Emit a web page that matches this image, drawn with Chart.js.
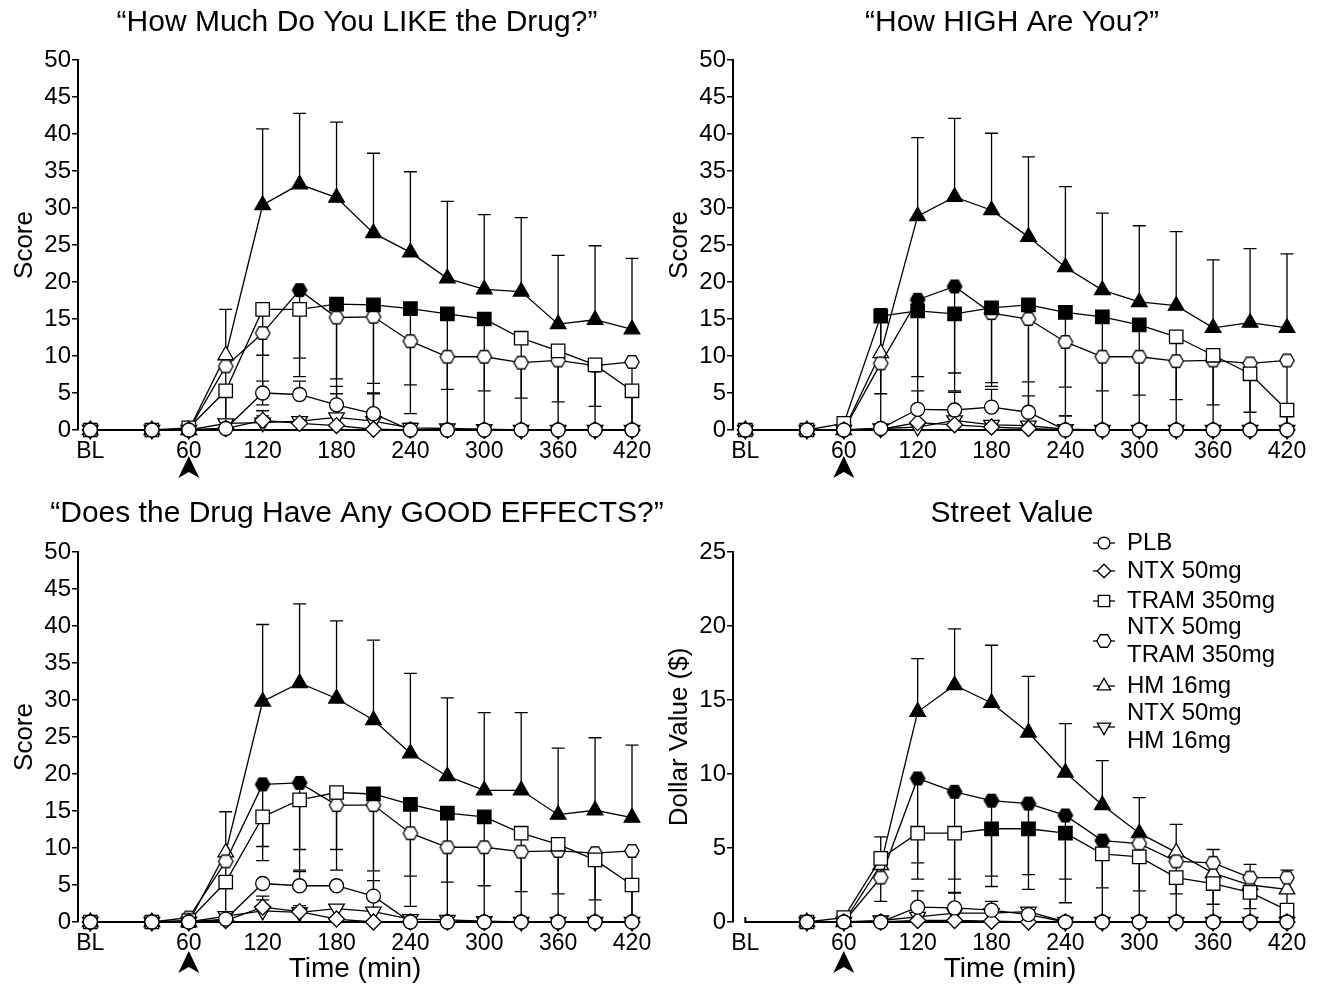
<!DOCTYPE html>
<html>
<head>
<meta charset="utf-8">
<script src="https://cdn.jsdelivr.net/npm/chart.js@4.4.0/dist/chart.umd.min.js"></script>
<style>
  html, body { margin: 0; padding: 0; background: #fff; }
  body { width: 1326px; height: 990px; position: relative; overflow: hidden; }
  .panel { position: absolute; width: 663px; height: 495px; }
</style>
</head>
<body>
<div class="panel" style="left:0;top:0"><canvas id="like" width="663" height="495"></canvas></div>
<div class="panel" style="left:655px;top:0"><canvas id="high" width="663" height="495"></canvas></div>
<div class="panel" style="left:0;top:495px"><canvas id="good" width="663" height="495"></canvas></div>
<div class="panel" style="left:655px;top:495px"><canvas id="street" width="663" height="495"></canvas></div>
<script>
// time points (BL plotted at -20 min), tick labels
const times = [-20, 30, 60, 90, 120, 150, 180, 210, 240, 270, 300, 330, 360, 390, 420];
const xTicks = [-20, 60, 120, 180, 240, 300, 360, 420];
const legendLabels = [["PLB"], ["NTX 50mg"], ["TRAM 350mg"], ["NTX 50mg", "TRAM 350mg"], ["HM 16mg"], ["NTX 50mg", "HM 16mg"]];

// errors: positive = bar drawn upward, negative = downward
// "How Much Do You LIKE the Drug?"
const likePLB = [0, 0, 0, 0.2, 5.0, 4.8, 3.4, 2.2, 0, 0, 0, 0, 0, 0, 0];
const likePLBErr = [0, 0, 0, 0, 1.6, 1.8, 1.5, 2.8, 0, 0, 0, 0, 0, 0, 0];
const likeNTX = [0, 0, 0, 0.2, 1.3, 0.9, 0.6, 0.1, 0, 0, 0, 0, 0, 0, 0];
const likeNTXErr = [0, 0, 0, 0, 1.3, 0.6, 0, 0, 0, 0, 0, 0, 0, 0, 0];
const likeTRAM = [0, 0, 0.3, 5.3, 16.3, 16.3, 17.0, 16.9, 16.4, 15.7, 15.0, 12.4, 10.7, 8.8, 5.3];
const likeTRAMErr = [0, 0, 0, -5.3, -6.2, -6.6, -17.0, -16.9, -14.2, -15.7, -15.0, -12.4, -10.7, -8.8, -5.3];
const likeTRAMFilled = [180, 210, 240, 270, 300];
const likeCombo = [0, 0, 0, 8.6, 13.1, 18.9, 15.2, 15.3, 12.0, 9.9, 9.9, 9.1, 9.4, 8.7, 9.2];
const likeComboErr = [0, 0, 0, -8.6, -9.7, -11.7, -8.3, -9.0, -5.9, -4.4, -4.6, -4.8, -5.6, -5.5, -9.2];
const likeComboFilled = [150];
const likeHM = [0, 0, 0, 10.1, 30.4, 33.2, 31.4, 26.6, 24.0, 20.5, 19.0, 18.7, 14.3, 14.9, 13.6];
const likeHMErr = [0, 0, 0, 6.2, 10.3, 9.6, 10.2, 10.8, 10.9, 10.4, 10.1, 10.0, 9.3, 10.0, 9.6];
const likeHMFilled = [120, 150, 180, 210, 240, 270, 300, 330, 360, 390, 420];
const likeNTXHM = [0, 0, 0, 0.9, 1.0, 1.2, 1.7, 1.2, 0.3, 0.2, 0.1, 0, 0, 0, 0];
const likeNTXHMErr = [0, 0, 0, 0.4, 0.9, 0.5, 4.2, 3.7, 0.6, 0, 0, 0, 0, 0, 0];

// "How HIGH Are You?"
const highPLB = [0, 0, 0, 0.2, 2.8, 2.7, 3.1, 2.4, 0, 0, 0, 0, 0, 0, 0];
const highPLBErr = [0, 0, 0, 0, 2.5, 2.4, 2.4, 2.2, 0, 0, 0, 0, 0, 0, 0];
const highNTX = [0, 0, 0, 0.1, 1.0, 0.7, 0.4, 0.2, 0, 0, 0, 0, 0, 0, 0];
const highNTXErr = [0, 0, 0, 0, 0, 0, 0, 0, 0, 0, 0, 0, 0, 0, 0];
const highTRAM = [0, 0, 0.9, 15.4, 16.1, 15.7, 16.5, 16.9, 15.9, 15.3, 14.2, 12.6, 10.1, 7.6, 2.7];
const highTRAMErr = [0, 0, 0, -10.5, -8.9, -8.0, -10.6, -16.9, -14.0, -15.3, -14.2, -12.6, -10.1, -7.6, -2.7];
const highTRAMFilled = [90, 120, 150, 180, 210, 240, 270, 300];
const highCombo = [0, 0, 0, 9.0, 17.6, 19.4, 15.8, 15.0, 11.9, 9.9, 9.9, 9.3, 9.4, 9.0, 9.4];
const highComboErr = [0, 0, 0, -9.0, -17.6, -14.1, -9.4, -8.5, -6.1, -4.6, -5.2, -5.2, -6.0, -6.6, -9.4];
const highComboFilled = [120, 150];
const highHM = [0, 0, 0, 10.4, 28.9, 31.5, 29.7, 26.1, 22.0, 18.9, 17.3, 16.8, 13.8, 14.5, 13.8];
const highHMErr = [0, 0, 0, 6.0, 10.6, 10.6, 10.4, 10.8, 10.9, 10.4, 10.3, 10.0, 9.2, 10.0, 10.0];
const highHMFilled = [120, 150, 180, 210, 240, 270, 300, 330, 360, 390, 420];
const highNTXHM = [0, 0, 0, 0.2, 0.4, 1.3, 0.7, 0.6, 0.1, 0, 0, 0, 0, 0, 0];
const highNTXHMErr = [0, 0, 0, 0, 0, 0, 0, 0, 1.8, 0, 0, 0, 0, 0, 0];

// "Does the Drug Have Any GOOD EFFECTS?"
const goodPLB = [0, 0, 0, 0.4, 5.2, 4.9, 4.9, 3.5, 0, 0, 0, 0, 0, 0, 0];
const goodPLBErr = [0, 0, 0, 0, 0, 1.9, 0, 2.1, 0, 0, 0, 0, 0, 0, 0];
const goodNTX = [0, 0, 0, 0.2, 2.0, 1.4, 0.4, 0, 0, 0, 0, 0, 0, 0, 0];
const goodNTXErr = [0, 0, 0, 0, 1.5, 0.8, 0, 0, 0, 0, 0, 0, 0, 0, 0];
const goodTRAM = [0, 0, 0.2, 5.4, 14.2, 16.5, 17.5, 17.3, 15.9, 14.7, 14.2, 12.0, 10.5, 8.4, 5.0];
const goodTRAMErr = [0, 0, 0, 0, -4.0, -6.7, -7.7, -17.3, -13.8, -14.7, -14.2, -12.0, -10.5, -8.4, -5.0];
const goodTRAMFilled = [210, 240, 270, 300];
const goodCombo = [0, 0, 0.6, 8.2, 18.6, 18.8, 15.8, 15.8, 12.0, 10.1, 10.1, 9.5, 9.6, 9.3, 9.6];
const goodComboErr = [0, 0, 0, -8.2, -10.3, -11.8, -8.8, -8.9, -5.8, -4.7, -5.2, -5.4, -5.8, -6.3, -9.6];
const goodComboFilled = [120, 150];
const goodHM = [0, 0, 0, 9.4, 29.8, 32.3, 30.2, 27.3, 22.8, 19.7, 17.8, 17.8, 14.5, 15.1, 14.1];
const goodHMErr = [0, 0, 0, 5.5, 10.4, 10.7, 10.5, 10.8, 10.8, 10.6, 10.5, 10.5, 9.0, 9.8, 9.8];
const goodHMFilled = [120, 150, 180, 210, 240, 270, 300, 330, 360, 390, 420];
const goodNTXHM = [0, 0, 0, 0.8, 1.5, 1.3, 1.8, 1.4, 0.4, 0.3, 0.1, 0, 0, 0, 0];
const goodNTXHMErr = [0, 0, 0, 0, 1.5, 0.6, 0, 0, 0, 0, 0, 0, 0, 0, 0];

// Street Value ($), no BL measure
const streetPLB = [null, 0, 0, 0, 1.0, 0.95, 0.8, 0.5, 0, 0, 0, 0, 0, 0, 0];
const streetPLBErr = [0, 0, 0, 0, 1.1, 1.0, 0.6, 0, 0, 0, 0, 0, 0, 0, 0];
const streetNTX = [null, 0, 0, 0, 0.1, 0.1, 0.05, 0, 0, 0, 0, 0, 0, 0, 0];
const streetNTXErr = [0, 0, 0, 0, 0, 0, 0, 0, 0, 0, 0, 0, 0, 0, 0];
const streetTRAM = [null, 0, 0.3, 4.3, 6.0, 6.0, 6.3, 6.3, 6.0, 4.6, 4.4, 3.0, 2.6, 2.0, 0.8];
const streetTRAMErr = [0, 0, 0, -2.9, -3.1, -3.1, -3.2, -3.1, -3.1, -2.3, -2.3, -1.1, -1.4, -1.1, -0.8];
const streetTRAMFilled = [180, 210, 240];
const streetCombo = [null, 0, 0, 3.0, 9.7, 8.8, 8.2, 8.0, 7.2, 5.5, 5.3, 4.1, 4.0, 3.0, 3.0];
const streetComboErr = [0, 0, 0, 0, -5.7, -6.8, -5.8, -5.8, -5.9, -5.5, -5.3, -4.1, -4.0, -3.0, -3.0];
const streetComboFilled = [120, 150, 180, 210, 240, 270];
const streetHM = [null, 0, 0, 3.85, 14.2, 16.0, 14.8, 12.8, 10.1, 7.9, 6.0, 4.7, 3.3, 2.5, 2.2];
const streetHMErr = [0, 0, 0, 1.9, 3.6, 3.8, 3.9, 3.8, 3.3, 3.0, 2.4, 1.9, 1.6, 1.4, 1.3];
const streetHMFilled = [120, 150, 180, 210, 240, 270, 300];
const streetNTXHM = [null, 0, 0, 0.1, 0.35, 0.6, 0.6, 0.7, 0, 0, 0, 0, 0, 0, 0];
const streetNTXHMErr = [0, 0, 0, 0, 0, 0, 0, 0, 0, 0, 0, 0, 0, 0, 0];

const FONT = '"Liberation Sans", Arial, Helvetica, sans-serif';

// hexagon marker (Chart.js has none) as small canvases
function makeHex(filled) {
  const c = document.createElement("canvas");
  c.width = 18; c.height = 18;
  const g = c.getContext("2d");
  g.beginPath();
  for (let k = 0; k < 6; k++) {
    const a = Math.PI / 3 * k;
    const px = 9 + 7.2 * Math.cos(a), py = 9 + 7.2 * Math.sin(a);
    if (k) g.lineTo(px, py); else g.moveTo(px, py);
  }
  g.closePath();
  g.fillStyle = filled ? "#000" : "#fff";
  g.fill();
  g.lineWidth = 1.3;
  g.strokeStyle = "#000";
  g.stroke();
  return c;
}
const hexOpen = makeHex(false);
const hexFilled = makeHex(true);

const markers = [
  { style: "circle", r: 7, rot: 0 },
  { style: "rectRot", r: 8, rot: 0 },
  { style: "rect", r: 9.5, rot: 0 },
  { style: "hex", r: 8, rot: 0 },
  { style: "triangle", r: 9, rot: 0 },
  { style: "triangle", r: 9, rot: 180 }
];

function serie(k, vals, err, filled = []) {
  const m = markers[k];
  return {
    label: legendLabels[k].join(" "),
    data: times.map((t, i) => ({ x: t, y: vals[i] })),
    err,
    borderColor: "#000",
    borderWidth: 1.3,
    pointStyle: m.style === "hex" ? times.map(t => filled.includes(t) ? hexFilled : hexOpen) : m.style,
    pointRadius: m.r,
    pointRotation: m.rot,
    pointBackgroundColor: times.map(t => filled.includes(t) ? "#000" : "#fff"),
    pointBorderColor: "#000",
    pointBorderWidth: 1.3,
    clip: false,
    tension: 0
  };
}

const panelDeco = {
  id: "panelDeco",
  beforeDatasetsDraw(chart) {
    const ctx = chart.ctx, x = chart.scales.x, y = chart.scales.y;
    const y0 = y.getPixelForValue(0);
    ctx.save();
    ctx.strokeStyle = "#000";
    ctx.lineWidth = 2;
    const xs = x.getPixelForValue(xTicks[0]), xe = x.getPixelForValue(xTicks[xTicks.length - 1]);
    ctx.beginPath();
    ctx.moveTo(xs, y0 - 5);
    ctx.lineTo(xs, y0);
    ctx.lineTo(xe, y0);
    ctx.stroke();
    // error bars
    ctx.lineWidth = 1.3;
    chart.data.datasets.forEach(ds => {
      ds.err.forEach((e, i) => {
        const v = ds.data[i].y;
        if (!e || v == null) return;
        const px = x.getPixelForValue(times[i]);
        const p1 = y.getPixelForValue(v), p2 = y.getPixelForValue(Math.max(0, v + e));
        ctx.beginPath();
        ctx.moveTo(px, p1);
        ctx.lineTo(px, p2);
        ctx.moveTo(px - 6.5, p2);
        ctx.lineTo(px + 6.5, p2);
        ctx.stroke();
      });
    });
    ctx.restore();
  },
  afterDraw(chart, args, opts) {
    const ctx = chart.ctx, ca = chart.chartArea, x = chart.scales.x, y = chart.scales.y;
    ctx.save();
    ctx.fillStyle = "#000";
    ctx.textAlign = "center";
    ctx.textBaseline = "middle";
    ctx.font = `30px ${FONT}`;
    ctx.fillText(opts.title, (ca.left + ca.right) / 2 + 2, opts.titleY);
    // dosing arrowhead under 60 min
    const ax = x.getPixelForValue(60), ay = y.getPixelForValue(0) + opts.arrowGap;
    ctx.beginPath();
    ctx.moveTo(ax, ay);
    ctx.lineTo(ax + 10.5, ay + 22);
    ctx.lineTo(ax, ay + 16);
    ctx.lineTo(ax - 10.5, ay + 22);
    ctx.closePath();
    ctx.fill();
    if (opts.legend) {
      const rows = [48, 76, 106, 146, 191, 232];
      const mx = 449, tx = 472;
      ctx.textAlign = "left";
      ctx.font = `24px ${FONT}`;
      rows.forEach((ry, k) => {
        ctx.strokeStyle = "#000";
        ctx.lineWidth = 1.3;
        ctx.beginPath();
        ctx.moveTo(mx - 11, ry);
        ctx.lineTo(mx + 11, ry);
        ctx.stroke();
        const m = markers[k];
        ctx.fillStyle = "#fff";
        Chart.helpers.drawPoint(ctx, {
          pointStyle: m.style === "hex" ? hexOpen : m.style,
          rotation: m.rot, radius: m.r * 0.85, borderWidth: 1.3
        }, mx, ry);
        ctx.fillStyle = "#000";
        const lines = legendLabels[k];
        lines.forEach((t, j) => {
          ctx.fillText(t, tx, ry + (j - (lines.length - 1) / 2) * 28);
        });
      });
    }
    ctx.restore();
  }
};

function makeChart(id, sets, yMax, yTitle, deco, bottomRow) {
  return new Chart(document.getElementById(id), {
    type: "line",
    data: { datasets: sets },
    options: {
      responsive: false,
      animation: false,
      events: [],
      layout: { padding: { left: 0, right: 31, top: bottomRow ? 57 : 60, bottom: bottomRow ? 4 : 25 } },
      plugins: { legend: { display: false }, tooltip: { enabled: false }, panelDeco: deco },
      scales: {
        x: {
          type: "linear", min: -30, max: 420,
          afterBuildTicks: s => { s.ticks = xTicks.map(v => ({ value: v })); },
          afterFit: s => { s.height = bottomRow ? 64 : 40; },
          ticks: {
            color: "#000", font: { family: FONT, size: 23 }, padding: 8,
            maxRotation: 0, autoSkip: false,
            callback: v => v === -20 ? "BL" : v
          },
          grid: { display: false, drawTicks: false },
          border: { display: false },
          title: { display: bottomRow, text: "Time (min)", color: "#000", font: { family: FONT, size: 28 }, padding: 0 }
        },
        y: {
          min: 0, max: yMax,
          afterFit: s => { s.width = 78; },
          ticks: { stepSize: 5, color: "#000", font: { family: FONT, size: 24 }, padding: 1 },
          grid: { drawOnChartArea: false, drawTicks: true, tickLength: 6, color: "#000", lineWidth: 1.5 },
          border: { display: true, color: "#000", width: 2 },
          title: { display: true, text: yTitle, color: "#000", font: { family: FONT, size: 26 }, padding: { top: 9, bottom: 0 } }
        }
      }
    },
    plugins: [panelDeco]
  });
}

makeChart("like", [
  serie(0, likePLB, likePLBErr),
  serie(1, likeNTX, likeNTXErr),
  serie(2, likeTRAM, likeTRAMErr, likeTRAMFilled),
  serie(3, likeCombo, likeComboErr, likeComboFilled),
  serie(4, likeHM, likeHMErr, likeHMFilled),
  serie(5, likeNTXHM, likeNTXHMErr)
], 50, "Score", { title: "\u201CHow Much Do You LIKE the Drug?\u201D", titleY: 23, arrowGap: 26 }, false);

makeChart("high", [
  serie(0, highPLB, highPLBErr),
  serie(1, highNTX, highNTXErr),
  serie(2, highTRAM, highTRAMErr, highTRAMFilled),
  serie(3, highCombo, highComboErr, highComboFilled),
  serie(4, highHM, highHMErr, highHMFilled),
  serie(5, highNTXHM, highNTXHMErr)
], 50, "Score", { title: "\u201CHow HIGH Are You?\u201D", titleY: 23, arrowGap: 26 }, false);

makeChart("good", [
  serie(0, goodPLB, goodPLBErr),
  serie(1, goodNTX, goodNTXErr),
  serie(2, goodTRAM, goodTRAMErr, goodTRAMFilled),
  serie(3, goodCombo, goodComboErr, goodComboFilled),
  serie(4, goodHM, goodHMErr, goodHMFilled),
  serie(5, goodNTXHM, goodNTXHMErr)
], 50, "Score", { title: "\u201CDoes the Drug Have Any GOOD EFFECTS?\u201D", titleY: 19, arrowGap: 29 }, true);

makeChart("street", [
  serie(0, streetPLB, streetPLBErr),
  serie(1, streetNTX, streetNTXErr),
  serie(2, streetTRAM, streetTRAMErr, streetTRAMFilled),
  serie(3, streetCombo, streetComboErr, streetComboFilled),
  serie(4, streetHM, streetHMErr, streetHMFilled),
  serie(5, streetNTXHM, streetNTXHMErr)
], 25, "Dollar Value ($)", { title: "Street Value", titleY: 19, arrowGap: 29, legend: true }, true);
</script>
</body>
</html>
